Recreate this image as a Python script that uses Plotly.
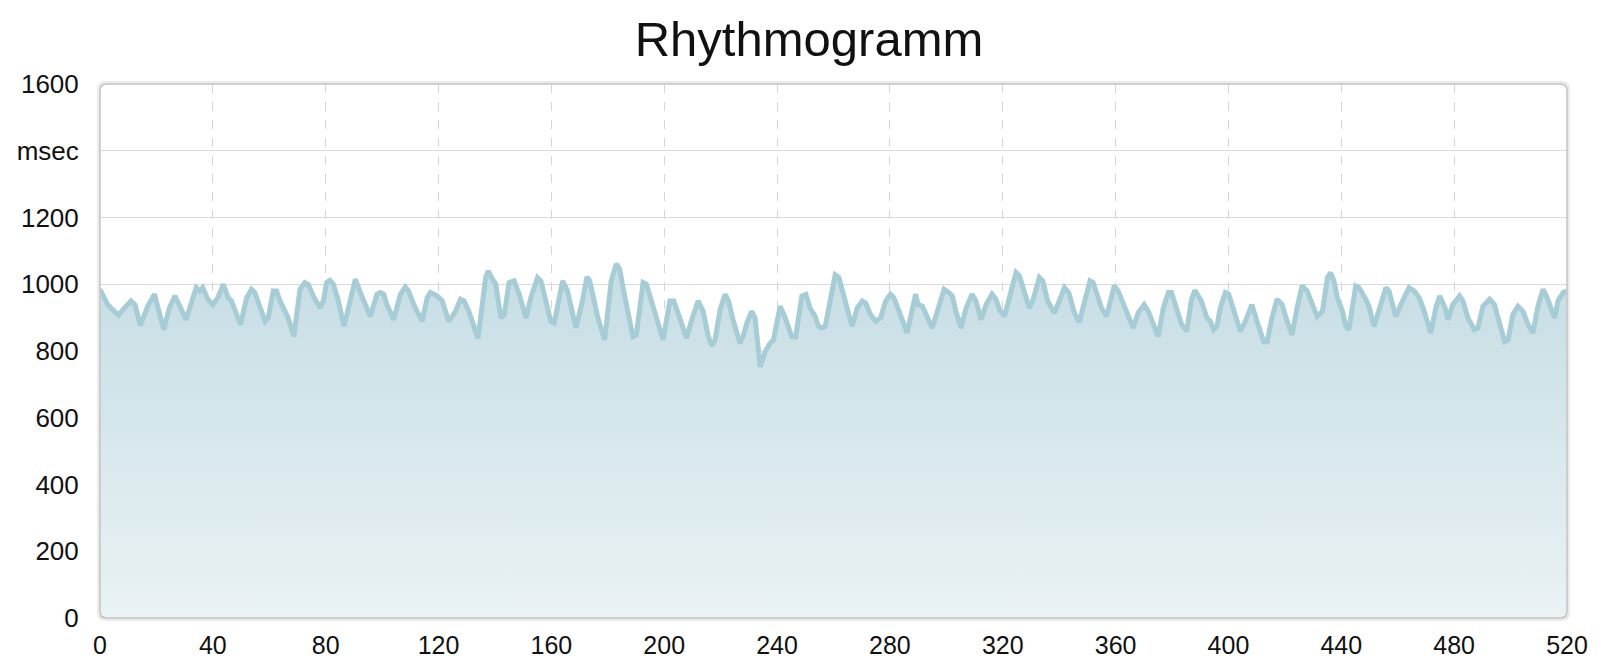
import plotly.graph_objects as go

# Vertices of the RR-interval line (beat index, msec)
beat_index = [
    0, 2.7, 4.5, 6.5, 8.7, 11, 12.4, 14.3, 16.9, 19.3, 22.6, 24.6, 26.6, 30.5, 34.1, 35.3, 36.4, 38.2, 40, 41.8,
    43.7, 45.4, 46.6, 47.8, 49.8, 52, 53.7, 54.9, 56.7, 58.5, 59.6, 61.4, 62.6, 63.8, 66.7, 68.7, 70.9, 72.6, 73.8,
    75.6, 78, 79.2, 80.3, 81.5, 82.7, 84.5, 86.5,
    90.5, 92.3, 93.5, 95.8, 98.2, 99.4, 100.6, 101.7, 104.1, 106.5, 108.2, 109.4, 111.2, 114.2, 116, 117.1, 119.5,
    121.3, 123.6, 126, 127.8, 129, 130.7,
    133.2, 134, 136.7, 137.6, 139.1, 140.3, 142.1, 143.3, 145, 146.8, 148.6, 151, 152.7, 155.1, 156.3, 157.5, 159.8,
    161, 164, 165.7, 168.7, 171, 172.6,
    173.6, 174.7, 176.5, 178.9, 181.2, 183, 184.2, 185.4, 187.1, 188.9, 190.1, 192.5, 193.7, 195.4, 197.2, 199.6,
    202, 203.4, 205.5, 207.9, 209.6, 212, 213.8, 215.5, 216.9,
    218, 219.8, 221.6, 222.8, 224.5, 226.9, 228.1, 229.3, 231, 232.2, 234, 235.8, 237.5, 238.7, 241.1, 242.9, 245.2,
    246.6, 248.8, 250.2, 251.7, 253.5, 254.7, 255.9, 257.1, 258.8, 260.6,
    261.9, 263.7, 265.4, 266.6, 268.4, 270.2, 271.4, 273.1, 274.9, 276.7, 278.5, 280.2, 281.4, 283.2, 284.4, 286.1,
    289.1, 290, 291.5, 293.2, 295, 296.8, 299.2, 300.9, 302.1,
    303.4, 305.2, 307, 309.1, 310.5, 312.3, 314.1, 316.2, 317.6, 318.8, 320.6, 322.3, 324.7, 325.9, 327.7, 329.4,
    330.6, 333, 334.2, 335.9, 338.3, 340.1, 341.9, 343.4, 345.4, 347.1,
    349.1, 350.9, 352, 353.2, 355, 356.8, 358, 359.5, 360.9, 362.7, 364.5, 366.2, 368, 370.1, 371.6, 373.3, 375.1,
    376.9, 378.7, 379.8, 381.6, 383.4, 385.2, 386.9, 388.1,
    390.4, 392.4, 393.6, 394.7, 395.9, 397.1, 398.9, 400.1, 401.8, 404.2, 406, 408.3, 410.1, 412.5, 413.7, 415.4,
    417.2, 419, 420.8, 422.5, 424.3, 426.1, 427.9, 429.6, 431.4,
    433.3, 435.1, 436.2, 437.4, 438.6, 440.4, 441.6, 442.7, 445.1, 446.3, 448.7, 449.8, 451.6, 454, 455.8, 456.9,
    459.3, 461.7, 464, 465.8, 467.6, 469.4, 471.7, 473.5, 474.9, 476.8,
    477.8, 479.5, 481.9, 483.1, 484.9, 487.2, 488.4, 490.2, 492.6, 494.3, 496.1, 497.9, 499.1, 500.8, 502.6, 504.4,
    506.2, 507.9, 509.7, 511.5, 512.7, 514.4, 515.6, 516.8, 518.6, 520,
]
rr_msec = [
    985, 939, 924, 907, 929, 950, 939, 877, 934, 970, 864, 929, 965, 894, 990, 980, 990, 955, 939, 960,
    1000, 960, 950, 924, 879, 960, 985, 975, 934, 889, 899, 980, 980, 950, 899, 843, 985, 1005, 1000,
    965, 929, 950, 1005, 1012, 1000, 950, 874,
    1015, 975, 950, 904, 970, 975, 970, 939, 894, 970, 992, 980, 939, 889, 960, 975, 965,
    950, 889, 919, 955, 950, 920,
    848, 838, 1020, 1040, 1015, 1000, 899, 909, 1005, 1010, 970, 899, 960, 1020, 1010, 970, 889,
    884, 1010, 980, 869, 950, 1022,
    1010, 970, 899, 833, 1010, 1061, 1045, 990, 909, 843, 848, 1005, 1000, 950, 899, 833,
    950, 950, 899, 838, 889, 950, 919, 848, 815,
    833, 924, 970, 950, 889, 823, 848, 884, 919, 899, 753, 798, 823, 833, 934, 899, 843,
    843, 965, 970, 929, 904, 874, 869, 874, 950, 1028,
    1020, 960, 899, 874, 929, 950, 944, 909, 889, 899, 950, 970, 960, 919, 894, 854,
    970, 939, 934, 904, 869, 919, 985, 975, 965,
    919, 869, 929, 970, 950, 894, 939, 970, 955, 924, 904, 960, 1035, 1025, 970, 929,
    950, 1020, 1010, 950, 914, 950, 990, 975, 914, 886,
    960, 1010, 1005, 970, 929, 904, 939, 995, 980, 944, 904, 869, 914, 939, 919, 879, 843,
    929, 975, 975, 924, 879, 859, 955, 982,
    950, 899, 889, 864, 874, 929, 975, 970, 919, 859, 889, 939, 889, 828, 828, 899,
    955, 939, 889, 848, 929, 995, 980, 939, 904,
    919, 1020, 1035, 1010, 960, 919, 874, 864, 995, 990, 955, 934, 874, 939, 990, 980,
    904, 950, 990, 980, 960, 919, 854, 929, 965, 929,
    894, 939, 965, 950, 899, 864, 869, 934, 955, 939, 889, 828, 833, 909, 934, 919,
    879, 854, 934, 985, 965, 924, 899, 950, 975, 980,
]

x_ticks = list(range(0, 521, 40))
y_ticks = [0, 200, 400, 600, 800, 1000, 1200, 1400, 1600]
y_tick_text = ["0", "200", "400", "600", "800", "1000", "1200", "msec", "1600"]

W, H = 1598, 662
ML, MR, MT, MB = 100, 31, 84, 44
pw, ph = W - ML - MR, H - MT - MB

fig = go.Figure()
fig.add_trace(go.Scatter(
    x=beat_index, y=rr_msec, mode="lines",
    line=dict(color="rgb(166,204,213)", width=5),
    fill="tozeroy",
    fillgradient=dict(type="vertical",
                      colorscale=[[0, "rgb(234,242,244)"], [1, "rgb(197,221,228)"]]),
    hoverinfo="x+y", showlegend=False,
))

# rounded border of the plot area
r = 7
rx, ry = r / pw, r / ph
path = (f"M {rx},0 L {1-rx},0 Q 1,0 1,{ry} L 1,{1-ry} Q 1,1 {1-rx},1 "
        f"L {rx},1 Q 0,1 0,{1-ry} L 0,{ry} Q 0,0 {rx},0 Z")
sx, sy = 1.5 / pw, 1.5 / ph
shadow = (f"M {rx-sx},{-sy} L {1-rx+sx},{-sy} Q {1+sx},{-sy} {1+sx},{ry-sy} L {1+sx},{1-ry+sy} "
          f"Q {1+sx},{1+sy} {1-rx+sx},{1+sy} L {rx-sx},{1+sy} Q {-sx},{1+sy} {-sx},{1-ry+sy} "
          f"L {-sx},{ry-sy} Q {-sx},{-sy} {rx-sx},{-sy} Z")
fig.add_shape(type="path", path=shadow, xref="paper", yref="paper",
              line=dict(color="rgba(0,0,0,0.08)", width=3), layer="above")
fig.add_shape(type="path", path=path, xref="paper", yref="paper",
              line=dict(color="rgb(196,196,196)", width=1.5), layer="above")

font_family = "Liberation Sans, Arial, Helvetica, sans-serif"
fig.update_layout(
    width=W, height=H,
    margin=dict(l=ML, r=MR, t=MT, b=MB, pad=0),
    paper_bgcolor="white", plot_bgcolor="white",
    font=dict(family=font_family, color="#111111", size=26),
    title=dict(text="Rhythmogramm", x=809 / W, xref="container", xanchor="center",
               y=1 - 39 / H, yref="container", yanchor="middle",
               font=dict(family=font_family, size=49, color="#111111")),
    xaxis=dict(range=[0, 520], tickvals=x_ticks, showgrid=True, automargin=False,
               gridcolor="rgb(212,212,212)", griddash="dash", gridwidth=1.2,
               zeroline=False, showline=False, ticks="outside", ticklen=5,
               tickcolor="rgba(0,0,0,0)", tickfont=dict(size=25)),
    yaxis=dict(range=[0, 1600], tickvals=y_ticks, ticktext=y_tick_text, showgrid=True,
               automargin=False,
               gridcolor="rgb(218,218,218)", gridwidth=1.2,
               zeroline=False, showline=False, ticks="outside", ticklen=15,
               tickcolor="rgba(0,0,0,0)", tickfont=dict(size=26)),
)

fig.write_html("out.html", config={"displayModeBar": False},
               post_script="document.body.style.margin='0';")
